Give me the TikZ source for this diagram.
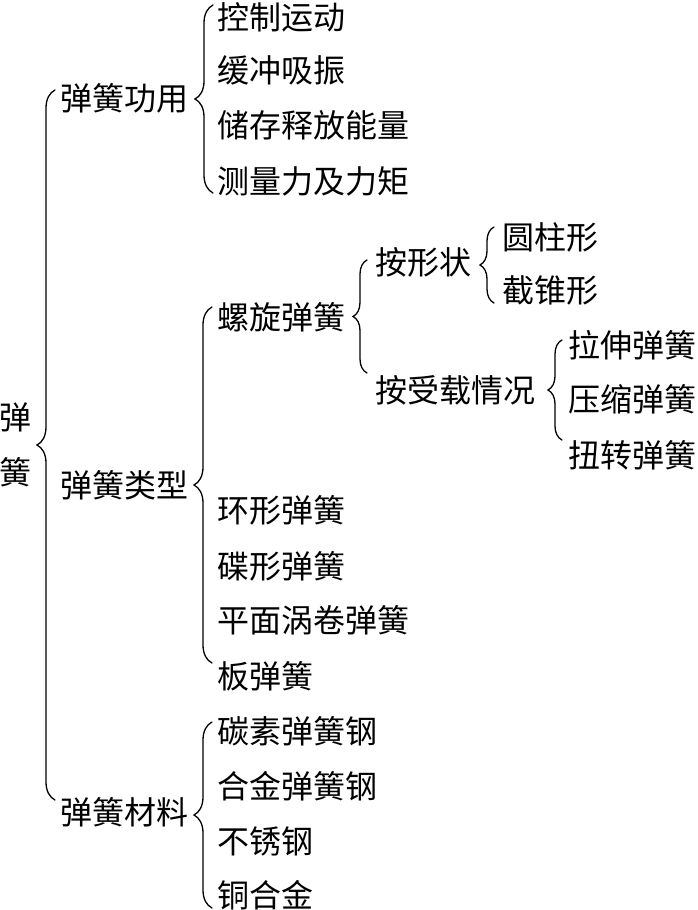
\documentclass[tikz,border=0pt]{standalone}
\usepackage{fontspec}
\newfontfamily\cjk{Noto Sans CJK SC}
\usetikzlibrary{decorations.pathreplacing}
\begin{document}
\begin{tikzpicture}[x=1pt,y=-1pt,
  txt/.style={anchor=west,inner sep=0pt,font=\cjk\fontsize{32}{32}\selectfont},
  rootchar/.style={anchor=center,inner sep=0pt,font=\cjk\fontsize{32}{32}\selectfont},
  bigbrace/.style={decorate,decoration={brace,amplitude=18pt},line width=1.3pt,line cap=round},
  smallbrace/.style={decorate,decoration={brace,amplitude=14pt},line width=1.3pt,line cap=round}]
\useasboundingbox (0,0) rectangle (697,910);
% root
\node[rootchar] (r1) at (15,417) {弹};
\node[rootchar] (r2) at (15,472) {簧};
% level 1
\node[txt] (use) at (60,98) {弹簧功用};
\node[txt] (typ) at (60,485) {弹簧类型};
\node[txt] (mat) at (60,812) {弹簧材料};
% uses
\node[txt] (u1) at (217,17) {控制运动};
\node[txt] (u2) at (217,70) {缓冲吸振};
\node[txt] (u3) at (217,125) {储存释放能量};
\node[txt] (u4) at (217,181) {测量力及力矩};
% types
\node[txt] (t1) at (217,317) {螺旋弹簧};
\node[txt] (t2) at (217,510) {环形弹簧};
\node[txt] (t3) at (217,566) {碟形弹簧};
\node[txt] (t4) at (217,620) {平面涡卷弹簧};
\node[txt] (t5) at (217,676) {板弹簧};
% materials
\node[txt] (m1) at (217,731) {碳素弹簧钢};
\node[txt] (m2) at (217,786) {合金弹簧钢};
\node[txt] (m3) at (217,841) {不锈钢};
\node[txt] (m4) at (217,895) {铜合金};
% helical subdivisions
\node[txt] (s1) at (375,262) {按形状};
\node[txt] (s2) at (375,390) {按受载情况};
\node[txt] (c1) at (502,237) {圆柱形};
\node[txt] (c2) at (502,290) {截锥形};
\node[txt] (l1) at (568,345) {拉伸弹簧};
\node[txt] (l2) at (568,399) {压缩弹簧};
\node[txt] (l3) at (568,455) {扭转弹簧};
% braces
\draw[bigbrace] ([shift={(-5,-12)}]mat.west) -- ([shift={(-5,-8)}]use.west);
\draw[bigbrace] ([shift={(-4,12)}]u4.west) -- ([shift={(-4,-12)}]u1.west);
\draw[bigbrace] ([shift={(-5,-13)}]t5.west) -- ([shift={(-5,-10)}]t1.west);
\draw[bigbrace] ([shift={(-5,13)}]m4.west) -- ([shift={(-5,-9)}]m1.west);
\draw[smallbrace] ([shift={(-8,-17)}]s2.west) -- ([shift={(-8,-2)}]s1.west);
\draw[smallbrace] ([shift={(-8,13)}]c2.west) -- ([shift={(-8,-10)}]c1.west);
\draw[smallbrace] ([shift={(-6,-15)}]l3.west) -- ([shift={(-6,-5)}]l1.west);
\end{tikzpicture}
\end{document}
